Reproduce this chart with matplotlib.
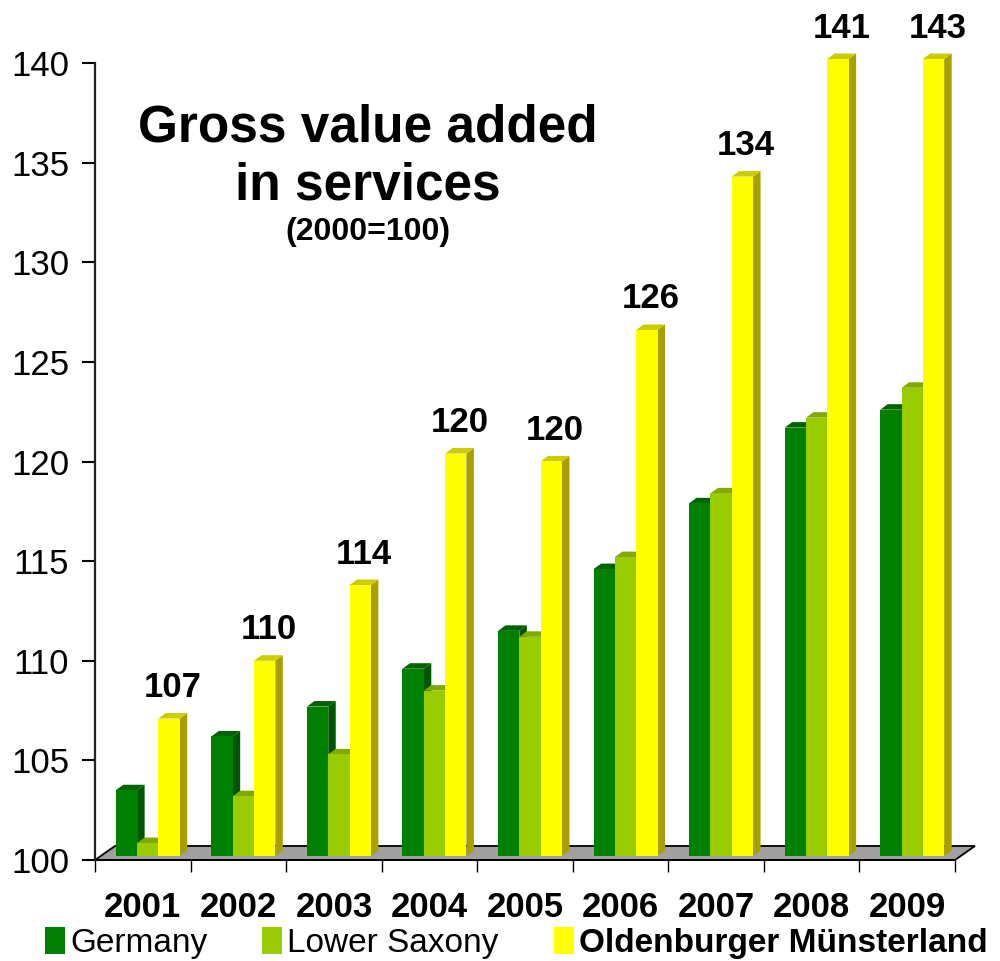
import numpy as np
import matplotlib
matplotlib.use("Agg")
import matplotlib.pyplot as plt
from matplotlib.patches import Polygon, Patch

plt.rcParams['font.family'] = ['Liberation Sans', 'DejaVu Sans']

years = ["2001", "2002", "2003", "2004", "2005", "2006", "2007", "2008", "2009"]
germany = [103.3, 106.0, 107.5, 109.4, 111.3, 114.4, 117.7, 121.5, 122.4]
lower_saxony = [100.65, 103.0, 105.1, 108.3, 111.0, 115.0, 118.2, 122.0, 123.5]
oldenburger = [106.9, 109.8, 113.6, 120.2, 119.8, 126.4, 134.1, 141.0, 143.0]
series_names = ["Germany", "Lower Saxony", "Oldenburger Münsterland"]
yticks = [100, 105, 110, 115, 120, 125, 130, 135, 140]

front_cols = ["#008000", "#99cc00", "#ffff00"]
side_cols = ["#005500", "#77a000", "#a8a000"]
top_cols = ["#006400", "#80aa00", "#cccc00"]

W, H = 1000, 961
fig = plt.figure(figsize=(W / 100, H / 100), dpi=100)
ax = fig.add_axes([95 / W, (H - 860) / H, 860 / W, 797 / H])
ymin, ymax = 100, 140
ax.set_xlim(-0.5, len(years) - 0.5)
ax.set_ylim(ymin, ymax)

ppx = 860 / len(years)          # pixels per x unit
ppy = 797 / (ymax - ymin)       # pixels per y unit

# 3D geometry (pixels -> data units)
bw = 21.3 / ppx
ddx, ddy = 7.5 / ppx, 5.5 / ppy       # bar depth
sx, sy = 5.0 / ppx, 4.0 / ppy         # bar plane shift
fdx, fdy = 20.0 / ppx, 14.0 / ppy     # floor depth

# floor
x0, x1 = -0.5, len(years) - 0.5
floor = Polygon([(x0, ymin), (x0 + fdx, ymin + fdy), (x1 + fdx, ymin + fdy), (x1, ymin)],
                closed=True, facecolor="#a0a0a0", edgecolor="black", lw=1.3,
                zorder=1, clip_on=False)
ax.add_patch(floor)

xs = np.arange(len(years))
all_series = [germany, lower_saxony, oldenburger]
for k, vals in enumerate(all_series):
    v = np.minimum(np.array(vals), ymax)
    left = xs + (k - 1.5) * bw + sx
    base = ymin + sy
    z = 3 + k
    for xl, t in zip(left, v + sy):
        xr = xl + bw
        ax.add_patch(Polygon([(xr, base), (xr + ddx, base + ddy), (xr + ddx, t + ddy), (xr, t)],
                             closed=True, facecolor=side_cols[k], edgecolor="none",
                             zorder=z, clip_on=False))
        ax.add_patch(Polygon([(xl, t), (xl + ddx, t + ddy), (xr + ddx, t + ddy), (xr, t)],
                             closed=True, facecolor=top_cols[k], edgecolor="none",
                             zorder=z, clip_on=False))
    ax.bar(left, v - ymin, width=bw, bottom=base, align="edge", color=front_cols[k],
           edgecolor="none", zorder=z + 0.1, clip_on=False)

# value labels on Oldenburger bars
for i, val in enumerate(oldenburger):
    t = min(val, ymax) + sy + ddy
    xc = xs[i] + 0.5 * bw + sx + bw / 2 + ddx / 2
    ax.text(xc, t + 9 / ppy, f"{val:.0f}", ha="center", va="bottom",
            fontsize=25, fontweight="bold", clip_on=False, zorder=10)

# axes styling
for s in ["top", "right"]:
    ax.spines[s].set_visible(False)
ax.spines["left"].set_linewidth(1.6)
ax.spines["left"].set_color("#222222")
ax.spines["bottom"].set_linewidth(1.3)
ax.spines["bottom"].set_zorder(2)
ax.set_yticks(yticks)
ax.set_yticklabels([str(t) for t in yticks])
ax.tick_params(axis="y", length=9.5, width=1.5, direction="out", labelsize=25, pad=9)
ax.set_xticks(xs)
ax.set_xticklabels(years, fontsize=25, fontweight="bold")
ax.set_xticks(np.arange(-0.5, len(years)), minor=True)
ax.tick_params(axis="x", which="major", length=0, pad=22)
ax.tick_params(axis="x", which="minor", length=8.5, width=1.0, direction="out")
ax.patch.set_visible(False)

# title
fig.text(368 / W, 1 - 141 / H, "Gross value added", ha="center", va="baseline",
         fontsize=37, fontweight="bold")
fig.text(368 / W, 1 - 200 / H, "in services", ha="center", va="baseline",
         fontsize=37, fontweight="bold")
fig.text(368 / W, 1 - 240 / H, "(2000=100)", ha="center", va="baseline",
         fontsize=23, fontweight="bold")

# legend
handles = [Patch(facecolor=c, edgecolor="none") for c in front_cols]
leg = fig.legend(handles, series_names, loc="center left", bbox_to_anchor=(45 / W, 1 - 943 / H),
                 ncol=3, frameon=False, fontsize=24, handlelength=0.6, handleheight=0.85,
                 handletextpad=0.15, columnspacing=1.65, borderpad=0, borderaxespad=0)
leg.get_texts()[2].set_fontweight("bold")

fig.savefig("out.png", dpi=100)
